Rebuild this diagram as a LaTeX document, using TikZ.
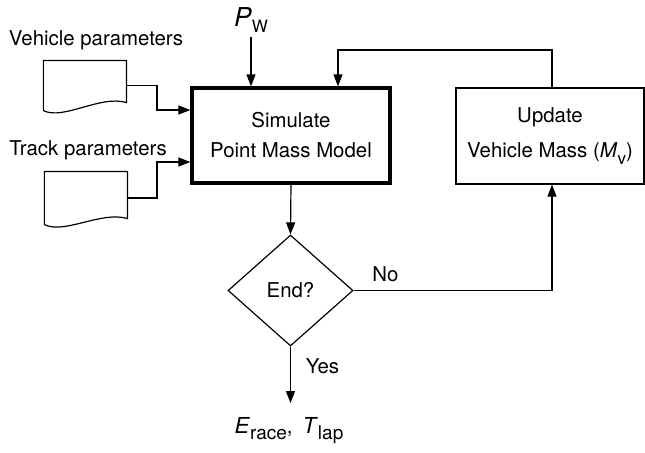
\documentclass[tikz,border=0pt]{standalone}
\usepackage{fontspec}
\setmainfont{TeX Gyre Heros}
\usetikzlibrary{arrows.meta,positioning,shapes.geometric}
\newcommand{\lowtext}[1]{\raisebox{-0.3em}{\fontsize{8.5}{10}\selectfont #1}}
\newcommand{\lowbig}[1]{\raisebox{-0.3em}{\fontsize{9.5}{11}\selectfont #1}}

\begin{document}
\begin{tikzpicture}[x=0.5pt,y=-0.5pt,line width=0.6pt,
  font=\fontsize{10.2}{12}\selectfont,
  >={Triangle[length=6pt,width=4.5pt]},
  block/.style={draw,rectangle,align=center,inner sep=0pt},
  docnode/.style={minimum width=41pt,inner sep=0pt}]
\useasboundingbox (0,0) rectangle (645,452);

\node[block,line width=1.6pt,minimum width=99pt,minimum height=47.5pt,
  font=\fontsize{10.2}{15}\selectfont](sim) at (291,135.5) {Simulate\\Point Mass Model};

\node[block,minimum width=94pt,minimum height=48pt](upd) at (550,136) {Update\\[5.5pt]Vehicle Mass (\textit{M}\lowtext{v})};

\node[draw,diamond,minimum width=62.5pt,minimum height=55.5pt,inner sep=0pt](end) at (290.5,290.5) {End?};

\node[docnode,minimum height=24.5pt](vdoc) at (85,85.5) {};

\node[docnode,minimum height=26pt](tdoc) at (86,198) {};

\node(vlabel) at (96,40) {Vehicle parameters};

\node(tlabel) at (88,150) {Track parameters};

\node(pw)[anchor=south,inner sep=2pt] at (251,37) {{\fontsize{13}{15}\selectfont\textit{P}}\lowtext{W}};

\node(out)[anchor=north,inner ysep=7pt] at (289,403) {{\fontsize{11}{13}\selectfont\textit{E}}\lowbig{race},\hspace{5pt}{\fontsize{11}{13}\selectfont\textit{T}}\lowbig{lap}};

\coordinate (fb) at (338,50);
\coordinate (vjoin) at (157,110);
\coordinate (tjoin) at (157,162);

% document shapes
\draw (vdoc.north west) -- (vdoc.north east) -- ([yshift=4pt]vdoc.south east)
  .. controls +(-26,-8) and +(20,10) .. (vdoc.south west) -- cycle;
\draw (tdoc.north west) -- (tdoc.north east) -- ([yshift=3pt]tdoc.south east)
  .. controls +(-26,-8) and +(20,10) .. (tdoc.south west) -- cycle;

\draw [->] (vdoc.east) -| (vjoin) -- (vjoin -| sim.west);
\draw [->] (tdoc.east) -| (tjoin) -- (tjoin -| sim.west);
\draw [->] (pw.south) -- (pw.south |- sim.north);
\draw [->] ([xshift=1pt]upd.north) |- (fb) -- (fb |- sim.north);
\draw [->] (sim.south) -- (end.north);
\draw [->] (end.east) -| node[pos=0.08,above,inner sep=4pt](no){No} ([xshift=1pt]upd.south);
\draw [->] (end.south) -- node[pos=0.35,right=4pt](yes){Yes} (end.south |- out.north);

\end{tikzpicture}
\end{document}
